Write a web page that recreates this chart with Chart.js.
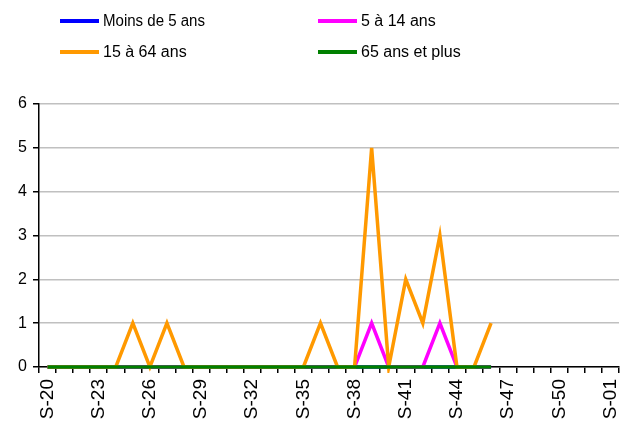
<!DOCTYPE html>
<html>
<head>
<meta charset="utf-8">
<script src="https://cdn.jsdelivr.net/npm/chart.js@4/dist/chart.umd.min.js"></script>
<style>
  html, body { margin: 0; padding: 0; background: #fff; }
  #wrap { width: 632px; height: 422px; }
</style>
</head>
<body>
<div id="wrap"><canvas id="cas"></canvas></div>
<script>
// semaines S-20 .. S-52, S-01
const semaines = ['S-20','S-21','S-22','S-23','S-24','S-25','S-26','S-27','S-28','S-29',
  'S-30','S-31','S-32','S-33','S-34','S-35','S-36','S-37','S-38','S-39','S-40','S-41',
  'S-42','S-43','S-44','S-45','S-46','S-47','S-48','S-49','S-50','S-51','S-52','S-01'];

const moins5  = [0,0,0,0,0,0,0,0,0,0, 0,0,0,0,0,0,0,0,0,0, 0,0,0,0,0,0,0];
const de5a14  = [0,0,0,0,0,0,0,0,0,0, 0,0,0,0,0,0,0,0,0,1, 0,0,0,1,0,0,0];
const de15a64 = [0,0,0,0,0,1,0,1,0,0, 0,0,0,0,0,0,1,0,0,5, 0,2,1,3,0,0,1];
const plus65  = [0,0,0,0,0,0,0,0,0,0, 0,0,0,0,0,0,0,0,0,0, 0,0,0,0,0,0,0];

const yTicks = [0, 1, 2, 3, 4, 5, 6];

const police = 'Arial, "Liberation Sans", sans-serif';

// legende sur deux colonnes, dessinee a la main
const legende2x2 = {
  id: 'legende2x2',
  afterDraw(chart) {
    const ctx = chart.ctx;
    const pos = [[60, 21], [318, 21], [60, 52], [318, 52]];
    chart.data.datasets.forEach((ds, i) => {
      const [x, y] = pos[i];
      ctx.save();
      ctx.strokeStyle = ds.borderColor;
      ctx.lineWidth = 4;
      ctx.beginPath();
      ctx.moveTo(x, y);
      ctx.lineTo(x + 39, y);
      ctx.stroke();
      ctx.fillStyle = '#000';
      ctx.font = '16px ' + police;
      ctx.textBaseline = 'middle';
      ctx.fillText(ds.label, x + 43, y + 1, 102);
      ctx.restore();
    });
  }
};

function serie(label, data, couleur, ordre) {
  return {
    label: label,
    data: data,
    borderColor: couleur,
    backgroundColor: couleur,
    borderWidth: 3.5,
    pointRadius: 0,
    tension: 0,
    fill: false,
    clip: 6,
    order: ordre
  };
}

new Chart(document.getElementById('cas'), {
  type: 'line',
  data: {
    labels: semaines,
    datasets: [
      serie('Moins de 5 ans', moins5, '#0000ff', 4),
      serie('5 à 14 ans', de5a14, '#ff00ff', 3),
      serie('15 à 64 ans', de15a64, '#ff9900', 2),
      serie('65 ans et plus', plus65, '#008000', 1)
    ]
  },
  options: {
    responsive: true,
    maintainAspectRatio: false,
    animation: false,
    layout: { padding: { top: 104, right: 13, left: 0, bottom: 0 } },
    plugins: { legend: { display: false }, tooltip: { enabled: false } },
    scales: {
      x: {
        offset: true,
        grid: { offset: true, drawOnChartArea: false, drawTicks: true, tickLength: 6, tickColor: '#000', lineWidth: 1.5 },
        border: { color: '#000', width: 1.5 },
        ticks: {
          autoSkip: false,
          minRotation: 90,
          maxRotation: 90,
          padding: 6,
          color: '#000',
          font: { family: police, size: 19 },
          callback: function (v, i) { return i % 3 === 0 ? semaines[i] : ''; }
        },
        afterFit: function (s) {
          s.height = 55;
          s.paddingLeft = 0;
          s.paddingRight = 0;
        }
      },
      y: {
        min: 0,
        max: 6,
        afterBuildTicks: function (s) { s.ticks = yTicks.map(v => ({ value: v })); },
        grid: { color: '#c0c0c0', lineWidth: 1.5, tickLength: 6, tickColor: '#000' },
        border: { color: '#000', width: 1.5 },
        ticks: {
          padding: 6,
          color: '#000',
          font: { family: police, size: 16 }
        },
        afterFit: function (s) {
          s.width = 39;
          s.paddingTop = 0;
          s.paddingBottom = 0;
        }
      }
    }
  },
  plugins: [legende2x2]
});
</script>
</body>
</html>
